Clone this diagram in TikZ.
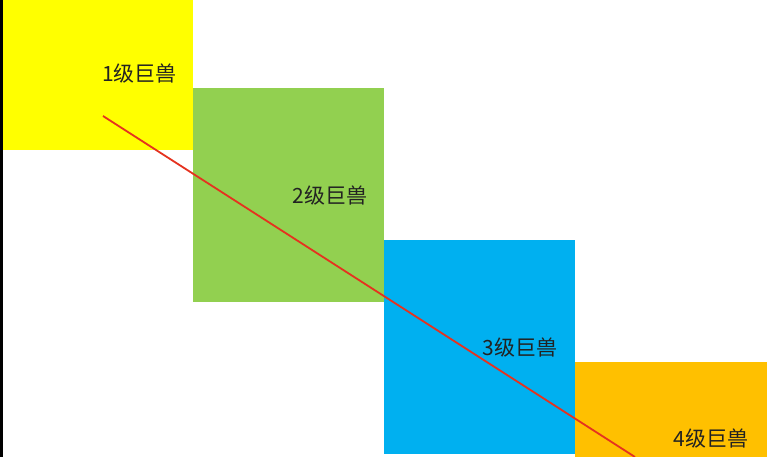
\documentclass[tikz,border=0pt]{standalone}
\usepackage{fontspec}
\setmainfont{Noto Sans CJK SC}
\usetikzlibrary{positioning}

\definecolor{lvone}{HTML}{FFFF00}
\definecolor{lvtwo}{HTML}{92D050}
\definecolor{lvthree}{HTML}{00B0F0}
\definecolor{lvfour}{HTML}{FFC000}
\definecolor{diag}{HTML}{E5321F}
\definecolor{labeltext}{HTML}{222222}

\begin{document}
\begin{tikzpicture}[x=1pt, y=-1pt,
    block/.style={rectangle, inner sep=0pt, anchor=north west},
    beast/.style={text=labeltext, font=\fontsize{21}{24}\selectfont, inner sep=0pt},
    trend/.style={draw=diag, line width=1.8pt}]
    \useasboundingbox (0,0) rectangle (769,457);

    % left edge
    \fill[black] (0,0) rectangle (2.5,457);

    % levels
    \node[block, fill=lvone, minimum width=190pt, minimum height=150pt] (one) at (3,0) {};
    \node[block, fill=lvtwo, minimum width=191pt, minimum height=214pt] (two) at (193,88) {};
    \node[block, fill=lvthree, minimum width=191pt, minimum height=214pt] (three) at (384,240) {};
    \node[block, fill=lvfour, minimum width=192pt, minimum height=95pt] (four) at (575,362) {};

    % labels
    \node[beast] (l_one) at (139.5,74) {1级巨兽};
    \node[beast] (l_two) at (330,196) {2级巨兽};
    \node[beast] (l_three) at (520,348) {3级巨兽};
    \node[beast] (l_four) at (711,439) {4级巨兽};

    % red line
    \coordinate (start) at (103,116);
    \coordinate (end) at (635,457);
    \draw[trend] (start) -- (end);
\end{tikzpicture}
\end{document}
